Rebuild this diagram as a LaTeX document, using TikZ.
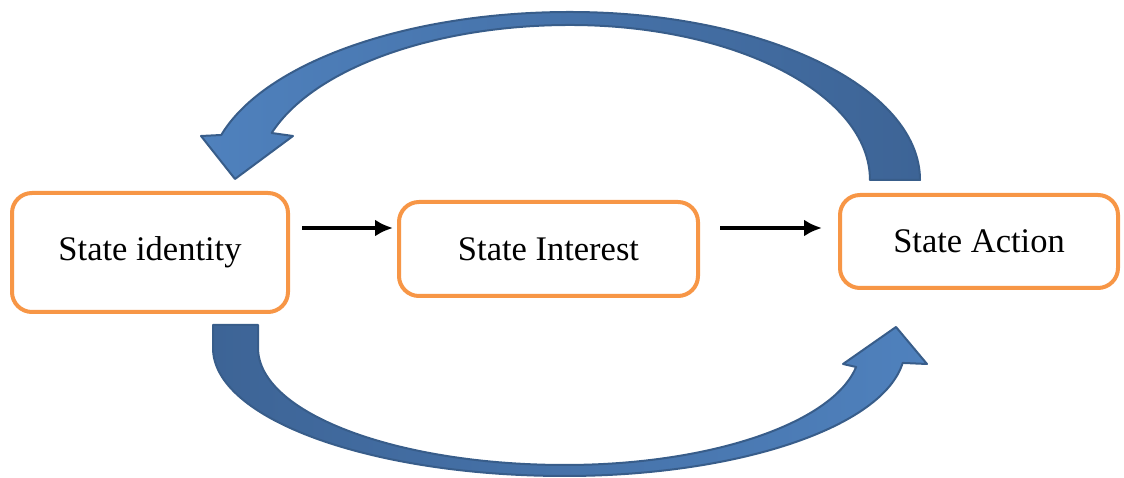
\documentclass[tikz,border=0pt]{standalone}
\usepackage{fontspec}
\setmainfont{Liberation Serif}
\usetikzlibrary{arrows.meta}
\definecolor{boxorange}{HTML}{F79646}
\definecolor{bluelight}{HTML}{4F81BD}
\definecolor{bluedark}{HTML}{3D6496}
\definecolor{blueline}{HTML}{385D8A}
\tikzset{
  statebox/.style={draw=boxorange, line width=4pt, rounded corners=20pt, fill=white,
    outer sep=0pt, inner sep=0pt, font=\fontsize{34.5}{41}\selectfont},
  flow/.style={draw=black, line width=4.5pt, -{Latex[length=18pt,width=17pt]}},
  bigarrow/.style={draw=blueline, line width=2pt, line join=round},
}
\begin{document}
\begin{tikzpicture}[x=1pt,y=1pt]
\useasboundingbox (0,0) rectangle (1124,478);

% top curved arrow (from State Action back to State identity)
\path[bigarrow, left color=bluelight, right color=bluedark]
  (920,298) arc[start angle=0,end angle=90,x radius=350,y radius=168]
  arc[start angle=90,end angle=164.46,x radius=362,y radius=168]
  -- (201,342) -- (235,299) -- (293,342) -- (271.7,345)
  arc[start angle=162.35,end angle=90,x radius=313,y radius=155]
  arc[start angle=90,end angle=0,x radius=300,y radius=155]
  -- cycle;

% bottom curved arrow (from State identity to State Action)
\path[bigarrow, left color=bluedark, right color=bluelight]
  (213,153) -- (213,130)
  arc[start angle=180,end angle=270,x radius=352,y radius=128]
  arc[start angle=270,end angle=353.3,x radius=340,y radius=128]
  -- (927,114) -- (896,151) -- (843,114) -- (856.1,111)
  arc[start angle=350.65,end angle=270,x radius=295,y radius=117]
  arc[start angle=270,end angle=180,x radius=307,y radius=117]
  -- (258,153) -- cycle;

\node[statebox, minimum width=276pt, minimum height=119pt] (b1) at (150,225.5) {State identity};
\node[statebox, minimum width=299pt, minimum height=94pt] (b2) at (548.5,229) {State Interest};
\node[statebox, minimum width=278pt, minimum height=93pt] (b3) at (979,236.5) {State Action};

\draw[flow] ([xshift=14pt,yshift=24.5pt]b1.east) -- ([xshift=-6pt,yshift=21pt]b2.west);
\draw[flow] ([xshift=22pt,yshift=21pt]b2.east) -- ([xshift=-18pt,yshift=13.5pt]b3.west);
\end{tikzpicture}
\end{document}
